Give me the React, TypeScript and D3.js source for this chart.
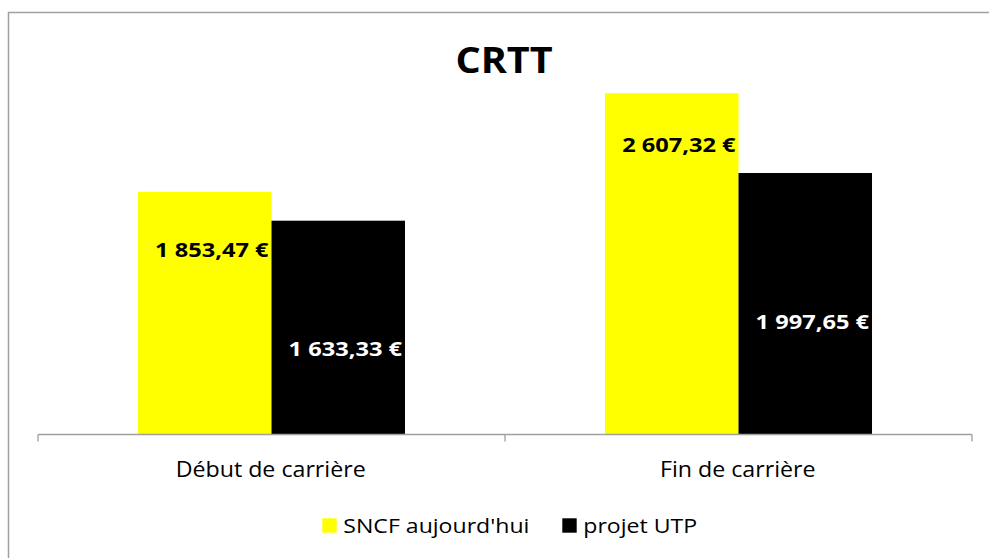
import React from "react";
import * as d3 from "d3";

const categories = ["Début de carrière", "Fin de carrière"];
const seriesNames = ["SNCF aujourd'hui", "projet UTP"];
const sncfValues = [1853.47, 2607.32];
const utpValues = [1633.33, 1997.65];
const chartTitle = "CRTT";

// styling (label vertical offsets from bar top, in px, per series/category)
const seriesColors = ["#FFFF00", "#000000"];
const labelColors = ["#000000", "#FFFFFF"];
const labelDy = [
  [58, 52],
  [128, 149],
];

const W = 989;
const H = 558;
const FONT = "'Open Sans', 'DejaVu Sans', sans-serif";

const fr = d3.formatLocale({
  decimal: ",",
  thousands: " ",
  grouping: [3],
  currency: ["", " €"],
});
const fmt = (v: number) => fr.format(",.2f")(v) + " €";

function T(props: {
  x: number;
  y: number;
  sx: number;
  size: number;
  anchor?: string;
  bold?: boolean;
  fill?: string;
  dy?: string;
  children: React.ReactNode;
}) {
  return (
    <text
      transform={`translate(${props.x},${props.y}) scale(${props.sx},1)`}
      textAnchor={props.anchor || "start"}
      fontSize={props.size}
      fontWeight={props.bold ? "bold" : "normal"}
      fill={props.fill || "#000"}
      dy={props.dy}
    >
      {props.children}
    </text>
  );
}

export default function App() {
  const series = [sncfValues, utpValues];
  const x0 = d3
    .scaleBand<string>()
    .domain(categories)
    .range([38, 972])
    .paddingInner(0.4283)
    .paddingOuter(0.2141);
  const x1 = d3
    .scaleBand<number>()
    .domain(d3.range(series.length))
    .range([0, x0.bandwidth()]);
  const y = d3.scaleLinear().domain([0, 3000]).range([434.5, 41.8]);
  const base = y(0);

  return (
    <svg
      width={W}
      height={H}
      style={{ position: "absolute", left: 0, top: 0, background: "#fff" }}
      fontFamily={FONT}
    >
      <rect x={8.5} y={12.5} width={W} height={H} fill="#fff" stroke="#A0A0A0" strokeWidth={1.5} />
      <T x={504} y={73.3} sx={1.1} size={36} anchor="middle" bold>
        {chartTitle}
      </T>
      {series.map((vals, si) =>
        vals.map((v, ci) => {
          const cx = (x0(categories[ci]) as number) + (x1(si) as number);
          return (
            <rect
              key={`b${si}-${ci}`}
              x={cx}
              y={y(v)}
              width={x1.bandwidth()}
              height={base - y(v)}
              fill={seriesColors[si]}
            />
          );
        })
      )}
      <line x1={38} x2={972} y1={base} y2={base} stroke="#A0A0A0" strokeWidth={1.3} />
      {[38, 505, 972].map((t) => (
        <line key={t} x1={t} x2={t} y1={base} y2={base + 7} stroke="#A0A0A0" strokeWidth={1.3} />
      ))}
      {series.map((vals, si) =>
        vals.map((v, ci) => {
          const right = (x0(categories[ci]) as number) + (x1(si) as number) + x1.bandwidth() - 3;
          return (
            <T
              key={`l${si}-${ci}`}
              x={right}
              y={y(v) + labelDy[si][ci]}
              dy="0.35em"
              sx={1.18}
              size={20}
              anchor="end"
              bold
              fill={labelColors[si]}
            >
              {fmt(v)}
            </T>
          );
        })
      )}
      {categories.map((c) => (
        <T key={c} x={(x0(c) as number) + x0.bandwidth() / 2 - 0.8} y={476.7} sx={1.105} size={21} anchor="middle">
          {c}
        </T>
      ))}
      {seriesNames.map((n, i) => {
        const lx = [322.3, 562.3][i];
        return (
          <g key={n}>
            <rect x={lx} y={518.3} width={14.4} height={14.4} fill={seriesColors[i]} />
            <T x={lx + 21} y={532.7} sx={1.155} size={20}>
              {n}
            </T>
          </g>
        );
      })}
    </svg>
  );
}
